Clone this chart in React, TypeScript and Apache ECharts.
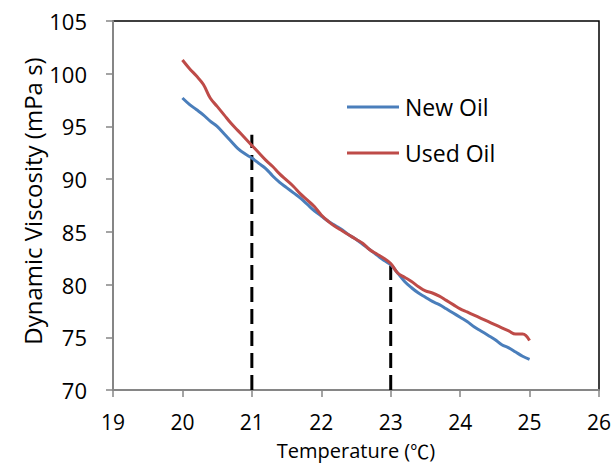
import React, { useEffect, useRef } from "react";
import * as echarts from "echarts";

// Temperature readings (°C)
const temperature = [
  20.0, 20.1, 20.2, 20.3, 20.4, 20.5, 20.6, 20.7, 20.8, 20.9,
  21.0, 21.1, 21.2, 21.3, 21.4, 21.5, 21.6, 21.7, 21.8, 21.9,
  22.0, 22.1, 22.2, 22.3, 22.4, 22.5, 22.6, 22.7, 22.8, 22.9,
  23.0, 23.1, 23.2, 23.3, 23.4, 23.5, 23.6, 23.7, 23.8, 23.9,
  24.0, 24.1, 24.2, 24.3, 24.4, 24.5, 24.6, 24.7, 24.8, 24.9,
  25.0,
];

// Dynamic viscosity (mPa s)
const newOil = [
  97.7, 97.1, 96.6, 96.1, 95.5, 95.0, 94.3, 93.6, 92.9, 92.4,
  92.0, 91.5, 91.0, 90.3, 89.7, 89.2, 88.7, 88.2, 87.6, 87.0,
  86.5, 86.0, 85.6, 85.2, 84.7, 84.3, 83.8, 83.3, 82.8, 82.3,
  81.9, 81.1, 80.3, 79.7, 79.2, 78.8, 78.4, 78.1, 77.7, 77.3,
  76.9, 76.5, 76.0, 75.6, 75.2, 74.8, 74.3, 74.0, 73.6, 73.2,
  72.9,
];

const usedOil = [
  101.3, 100.5, 99.8, 99.0, 97.7, 96.9, 96.1, 95.3, 94.6, 93.9,
  93.2, 92.5, 91.8, 91.2, 90.5, 89.9, 89.3, 88.6, 88.0, 87.4,
  86.6, 86.0, 85.5, 85.1, 84.7, 84.3, 83.9, 83.3, 82.9, 82.5,
  82.0, 81.1, 80.7, 80.3, 79.8, 79.4, 79.2, 78.9, 78.5, 78.1,
  77.7, 77.4, 77.1, 76.8, 76.5, 76.2, 75.9, 75.6, 75.3, 75.3,
  74.7,
];

// Vertical reference markers: [temperature, top viscosity]
const markerTemps = [21, 23];
const markerTops = [94.2, 81.8];

const xMin = 19;
const xMax = 26;
const yMin = 70;
const yMax = 105;

const FONT = "'Open Sans', 'Noto Sans', sans-serif";
const CJK_FONT = "'Noto Sans CJK SC', 'Noto Sans CJK JP', sans-serif";

export default function App() {
  const ref = useRef<HTMLDivElement>(null);

  useEffect(() => {
    document.body.style.margin = "0";
    if (!ref.current) return;
    const chart = echarts.init(ref.current, undefined, { renderer: "svg" });

    const markerSeries = markerTemps.map((t, i) => ({
      type: "line",
      name: "marker" + i,
      data: [
        [t, yMin],
        [t, markerTops[i]],
      ],
      symbol: "none",
      lineStyle: { color: "#000", width: 3, type: [15, 7] },
      silent: true,
      z: 1,
    }));

    chart.setOption({
      animation: false,
      backgroundColor: "#fff",
      textStyle: { fontFamily: FONT, color: "#000" },
      grid: {
        left: 113,
        top: 21,
        right: 16,
        bottom: 74,
        show: true,
        borderColor: "#000",
        borderWidth: 1.5,
        backgroundColor: "transparent",
      },
      legend: {
        show: true,
        orient: "vertical",
        left: 347,
        top: 95,
        padding: 0,
        itemGap: 22,
        itemWidth: 52,
        itemHeight: 3,
        icon: "rect",
        data: ["New Oil", "Used Oil"],
        textStyle: {
          fontFamily: FONT,
          fontSize: 23,
          color: "#000",
          lineHeight: 24,
          padding: [0, 0, 0, 1],
        },
      },
      xAxis: {
        type: "value",
        min: xMin,
        max: xMax,
        interval: 1,
        axisLine: { show: true, lineStyle: { color: "#868686", width: 2 } },
        axisTick: { show: true, inside: false, length: 7, lineStyle: { color: "#868686", width: 1.5 } },
        axisLabel: { fontFamily: FONT, fontSize: 21, lineHeight: 21, color: "#000", margin: 21 },
        splitLine: { show: false },
      },
      yAxis: {
        type: "value",
        min: yMin,
        max: yMax,
        interval: 5,
        axisLine: { show: true, lineStyle: { color: "#868686", width: 2 } },
        axisTick: { show: true, inside: false, length: 7, lineStyle: { color: "#868686", width: 1.5 } },
        axisLabel: { fontFamily: FONT, fontSize: 22, color: "#000", margin: 26 },
        splitLine: { show: false },
      },
      graphic: [
        {
          type: "text",
          x: 356,
          y: 450,
          style: {
            text: "{a|Temperature (}{b|℃}{a|)}",
            align: "center",
            verticalAlign: "middle",
            rich: {
              a: { fontFamily: FONT, fontSize: 20, lineHeight: 20, fill: "#000", color: "#000" },
              b: { fontFamily: CJK_FONT, fontSize: 19, lineHeight: 20, fill: "#000", color: "#000" },
            },
          },
        },
        {
          type: "text",
          x: 32,
          y: 201,
          rotation: Math.PI / 2,
          style: {
            text: "Dynamic Viscosity (mPa s)",
            fontFamily: FONT,
            fontSize: 24,
            fill: "#000",
            align: "center",
            verticalAlign: "middle",
          },
        },
      ],
      series: [
        ...markerSeries,
        {
          type: "line",
          name: "New Oil",
          data: temperature.map((t, i) => [t, newOil[i]]),
          symbol: "none",
          smooth: 0.4,
          color: "#4A7EBB",
          lineStyle: { color: "#4A7EBB", width: 3 },
          z: 3,
        },
        {
          type: "line",
          name: "Used Oil",
          data: temperature.map((t, i) => [t, usedOil[i]]),
          symbol: "none",
          smooth: 0.4,
          color: "#BE4B48",
          lineStyle: { color: "#BE4B48", width: 3 },
          z: 3,
        },
      ],
    });

    return () => chart.dispose();
  }, []);

  return <div ref={ref} style={{ width: 615, height: 464 }} />;
}
